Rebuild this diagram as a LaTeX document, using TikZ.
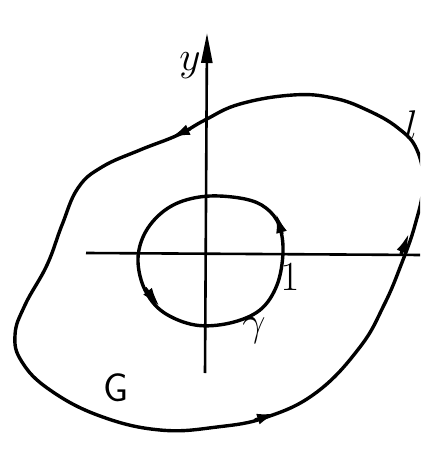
\documentclass[tikz,border=0pt]{standalone}
\usetikzlibrary{arrows.meta}
\begin{document}
\begin{tikzpicture}[x=0.5pt,y=-0.5pt,
  axis/.style={line width=1.3pt},
  curve/.style={line width=1.7pt},
  blob/.style={line width=1.7pt,-{Latex[length=10pt,width=5.5pt]}},
  lbl/.style={font=\fontsize{20}{24}\selectfont, inner sep=0pt}]
\useasboundingbox (0,0) rectangle (420,458);
\clip (0,0) rectangle (420,458);
% axes
\coordinate (xl) at (86,253);
\coordinate (xr) at (422,255);
\coordinate (yb) at (205,373);
\coordinate (yt) at (207,33);
\draw[axis] (xl) -- (xr);
\draw[axis,-{Triangle[length=15pt,width=5.5pt]}] (yb) -- (yt);
% inner circle
\draw[curve]
  plot[smooth cycle,tension=0.6] coordinates {
  (283,252) (279,225) (266,208) (245,199) (210,196) (180,202) (158,216)
  (143,237) (138,262) (145,290) (163,312) (195,325) (230,323) (260,310) (277,285)};
\coordinate (i1t) at (282,234); \coordinate (i1h) at (276,213);
\coordinate (i2t) at (145,288); \coordinate (i2h) at (160,307);
\draw[blob] (i1t) -- (i1h);
\draw[blob] (i2t) -- (i2h);
% outer curve G
\draw[curve]
  plot[smooth cycle,tension=0.7] coordinates {
  (293,95) (240,104) (205,120) (178,135) (140,150) (102,167) (78,188)
  (62,225) (47,265) (25,305) (15,335) (22,362) (50,390)
  (100,416) (160,430) (217,427) (267,417) (317,392) (360,347) (384,305)
  (401,265) (415,225) (423,185) (417,150) (398,128) (367,110) (333,98)};
\coordinate (o1t) at (190,129); \coordinate (o1h) at (170,138);
\coordinate (o2t) at (255,420); \coordinate (o2h) at (277,413);
\coordinate (o3t) at (401,254); \coordinate (o3h) at (409,233);
\draw[blob] (o1t) -- (o1h);
\draw[blob] (o2t) -- (o2h);
\draw[blob] (o3t) -- (o3h);
% labels
\node[lbl] (ylab) at (190,66) {$y$};
\node[lbl] (one) at (290,277) {$1$};
\node[lbl] (gam) at (254,331) {$\gamma$};
\node[lbl] (ell) at (411,125) {$l$};
\node[lbl] (G) at (116,388) {\sffamily G};
\end{tikzpicture}
\end{document}
